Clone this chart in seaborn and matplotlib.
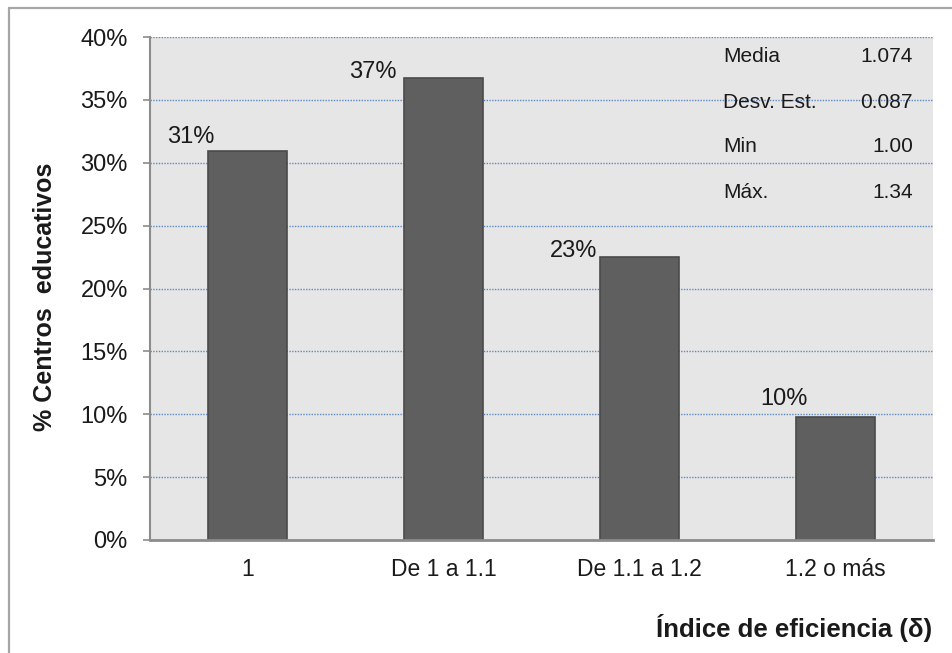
import numpy as np
import pandas as pd
import matplotlib
matplotlib.use("Agg")
import matplotlib.pyplot as plt
from matplotlib.lines import Line2D
from matplotlib.ticker import FuncFormatter
import seaborn as sns

categories = ['1', 'De 1 a 1.1', 'De 1.1 a 1.2', '1.2 o más']
percent = [30.9, 36.7, 22.5, 9.8]
bar_labels = ['31%', '37%', '23%', '10%']
stat_names = ['Media', 'Desv. Est.', 'Min', 'Máx.']
stat_values = ['1.074', '0.087', '1.00', '1.34']

sns.set_style('white')
plt.rcParams['font.family'] = ['Liberation Sans', 'DejaVu Sans']
txt_col = '#1a1a1a'

df = pd.DataFrame({'cat': categories, 'pct': percent})

fig = plt.figure(figsize=(9.52, 6.53), dpi=100)
ax = fig.add_axes([150/952, 1-540/653, (933-150)/952, (540-37)/653])
ax.set_facecolor('#e6e6e6')

sns.barplot(data=df, x='cat', y='pct', color='#5f5f5f', saturation=1,
            width=0.404, edgecolor='#4a4a4a', linewidth=1.2, ax=ax)

ax.set_xlim(-0.5, 3.5)
ax.set_ylim(0, 40)
ax.set_yticks(np.arange(0, 41, 5))
ax.yaxis.set_major_formatter(FuncFormatter(lambda v, p: '{:.0f}%'.format(v)))
ax.yaxis.grid(True, linestyle=(0, (1, 1)), color='#5b8ac6', linewidth=1.0)
ax.set_axisbelow(True)
ax.set_xlabel('')
ax.set_ylabel('')

for s in ['top', 'right']:
    ax.spines[s].set_visible(False)
ax.spines['left'].set_color('#8c8c8c')
ax.spines['left'].set_linewidth(1.5)
ax.spines['bottom'].set_color('#8c8c8c')
ax.spines['bottom'].set_linewidth(2)

ax.tick_params(axis='y', which='major', left=True, length=5, width=1.2,
               color='#8c8c8c', pad=11, labelsize=17, labelcolor=txt_col)
ax.tick_params(axis='x', which='major', bottom=False, length=0, pad=13,
               labelsize=16.5, labelcolor=txt_col)

# data labels, moved left of each bar like in the original
lab_dx = [-0.29, -0.36, -0.337, -0.26]
lab_y = [32.05, 37.2, 22.95, 11.2]
for i, t in enumerate(bar_labels):
    ax.text(i + lab_dx[i], lab_y[i], t, ha='center', va='center',
            fontsize=17, color=txt_col)

# stats box
for k, (n, v) in enumerate(zip(stat_names, stat_values)):
    y = 1 - (57 + 45*k)/653
    fig.text(723/952, y, n, ha='left', va='center', fontsize=15, color=txt_col)
    fig.text(913/952, y, v, ha='right', va='center', fontsize=15, color=txt_col)

fig.text(45/952, 1-297/653, '% Centros  educativos', rotation=90,
         ha='center', va='center', fontsize=18, fontweight='bold', color=txt_col)
fig.text(932/952, 1-628/653, 'Índice de eficiencia (δ)', ha='right',
         va='center', fontsize=18.5, fontweight='bold', color=txt_col)

# outer chart border (top and left visible)
fig.add_artist(Line2D([9/952, 1.0], [1-8/653, 1-8/653], transform=fig.transFigure,
                      color='#a6a6a6', linewidth=1.6))
fig.add_artist(Line2D([9/952, 9/952], [0, 1-8/653], transform=fig.transFigure,
                      color='#a6a6a6', linewidth=1.6))

fig.savefig('out.png', dpi=100)
